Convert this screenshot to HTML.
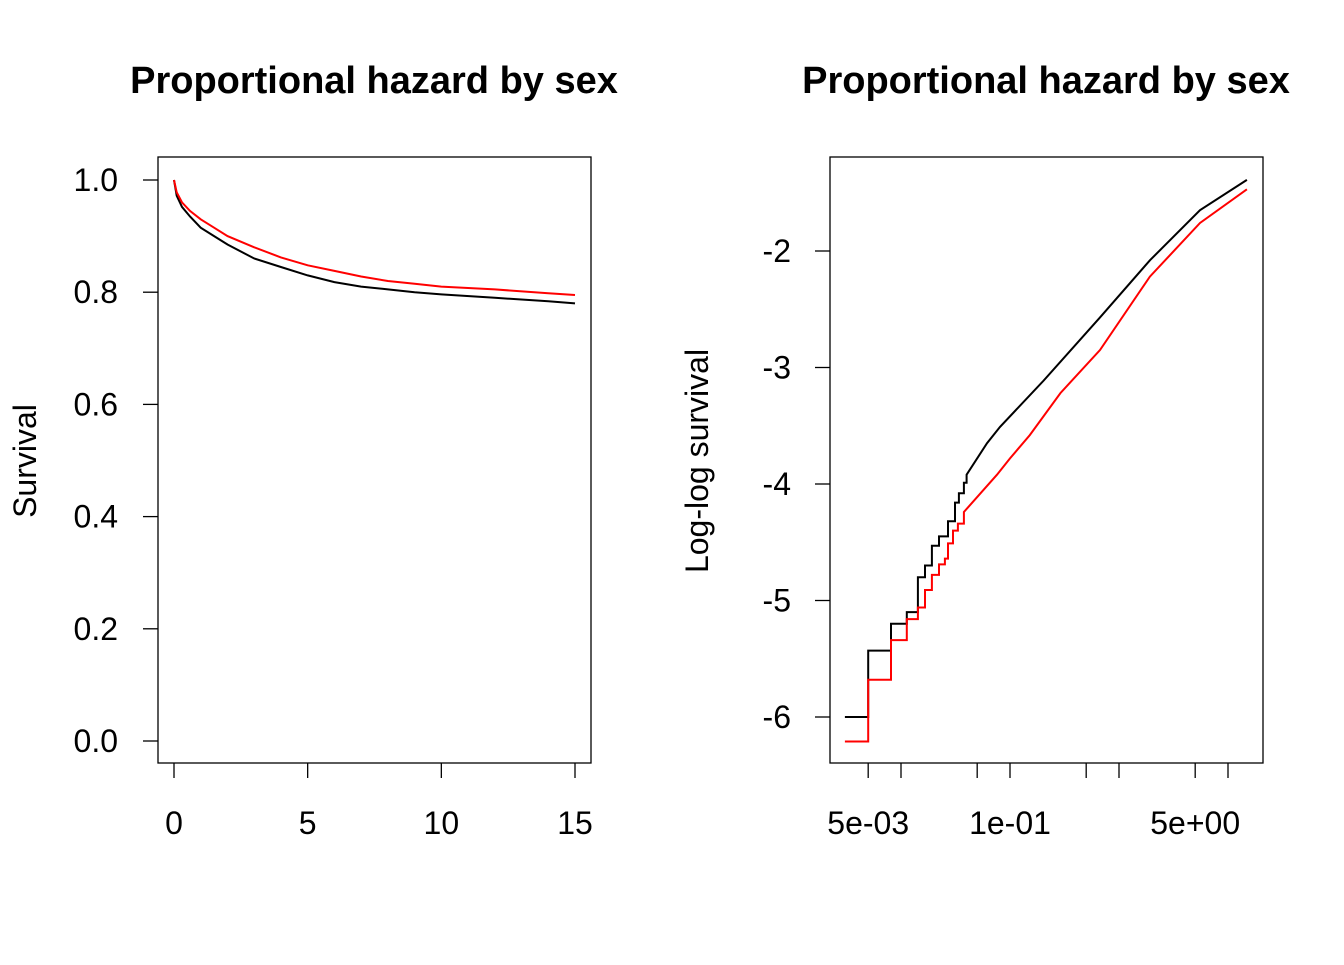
<!DOCTYPE html>
<html><head><meta charset="utf-8"><style>
body{margin:0;background:#fff}
svg text{font-family:"Liberation Sans",Arial,sans-serif}
</style></head><body>
<svg id="c" width="1344" height="960" xmlns="http://www.w3.org/2000/svg">
<rect width="1344" height="960" fill="#fff"/>
</svg>
<script>
// Left panel data
const survTimes=[0,0.1,0.3,0.6,1,1.5,2,3,4,5,6,7,8,9,10,12,14,15];
const survBlack=[1.0,0.972,0.952,0.935,0.915,0.9,0.885,0.86,0.845,0.83,0.818,0.81,0.805,0.8,0.796,0.79,0.784,0.78];
const survRed=[1.0,0.978,0.96,0.945,0.93,0.915,0.9,0.88,0.862,0.848,0.838,0.828,0.82,0.815,0.81,0.805,0.798,0.795];
const leftXTicks=[0,5,10,15];
const leftYTicks=[0.0,0.2,0.4,0.6,0.8,1.0];
// Right panel data
const llTimesBlack=[0.00306,0.005,0.0081,0.0113,0.0143,0.0166,0.0192,0.0223,0.027,0.0313,0.034,0.0378,0.040,0.0615,0.081,0.20,0.67,1.92,5.53,14.9];
const llBlack=[-6.0,-5.43,-5.20,-5.10,-4.80,-4.70,-4.53,-4.45,-4.32,-4.16,-4.08,-3.99,-3.92,-3.65,-3.51,-3.12,-2.57,-2.08,-1.65,-1.39];
const llTimesRed=[0.00306,0.005,0.0081,0.0113,0.0143,0.0166,0.0192,0.0223,0.0253,0.027,0.030,0.0333,0.0378,0.076,0.1,0.152,0.29,0.67,1.92,5.53,14.9];
const llRed=[-6.21,-5.68,-5.34,-5.16,-5.06,-4.91,-4.78,-4.69,-4.64,-4.51,-4.40,-4.34,-4.24,-3.92,-3.78,-3.58,-3.22,-2.85,-2.22,-1.76,-1.47];
const stepLimit=0.045;
const rightXTicks=[0.005,0.01,0.05,0.1,0.5,1,5,10];
const rightXLabels={"0.005":"5e-03","0.1":"1e-01","5":"5e+00"};
const rightYTicks=[-6,-5,-4,-3,-2];

const svg=document.getElementById('c');const NS='http://www.w3.org/2000/svg';
function mk(tag,attrs,parent,name){const e=document.createElementNS(NS,tag);for(const k in attrs)e.setAttribute(k,attrs[k]);


(parent||svg).appendChild(e);return e;}
function txt(x,y,s,attrs,name){const t=mk('text',Object.assign({x:x,y:y},attrs),svg,name);t.textContent=s;return t;}

const FS='32';
// left scales
const lx=v=>174+(575-174)*v/15;
const ly=v=>741-(741-180)*v;
mk('rect',{x:158,y:157,width:433,height:606,fill:'none',stroke:'#000','stroke-width':1.3},svg,'left-plot-box');
txt(374,93,'Proportional hazard by sex',{'text-anchor':'middle','font-size':'38','font-weight':'bold'},'left-title');
leftXTicks.forEach(v=>{mk('line',{x1:lx(v),x2:lx(v),y1:763,y2:778,stroke:'#000','stroke-width':1.3},svg,'left-x-tick');
txt(lx(v),834,String(v),{'text-anchor':'middle','font-size':FS},'left-x-tick-label');});
leftYTicks.forEach(v=>{mk('line',{x1:143,x2:158,y1:ly(v),y2:ly(v),stroke:'#000','stroke-width':1.3},svg,'left-y-tick');
txt(118,ly(v)+11,v.toFixed(1),{'text-anchor':'end','font-size':FS},'left-y-tick-label');});
txt(0,0,'Survival',{'font-size':FS,'text-anchor':'middle',transform:'translate(36,461) rotate(-90)'},'left-y-axis-title');
function poly(ts,vs,fx,fy){return ts.map((t,i)=>fx(t).toFixed(1)+','+fy(vs[i]).toFixed(1)).join(' ');}
mk('polyline',{points:poly(survTimes,survBlack,lx,ly),fill:'none',stroke:'#000','stroke-width':2},svg,'survival-line-black');
mk('polyline',{points:poly(survTimes,survRed,lx,ly),fill:'none',stroke:'#f00','stroke-width':2},svg,'survival-line-red');

// right scales
const rx=t=>1010+109*(Math.log10(t)+1);
const ry=v=>251-116.5*(v+2);
mk('rect',{x:830,y:157,width:433,height:606,fill:'none',stroke:'#000','stroke-width':1.3},svg,'right-plot-box');
txt(1046,93,'Proportional hazard by sex',{'text-anchor':'middle','font-size':'38','font-weight':'bold'},'right-title');
rightXTicks.forEach(v=>{mk('line',{x1:rx(v),x2:rx(v),y1:763,y2:778,stroke:'#000','stroke-width':1.3},svg,'right-x-tick');
const lab=rightXLabels[String(v)];if(lab)txt(rx(v),834,lab,{'text-anchor':'middle','font-size':FS},'right-x-tick-label');});
rightYTicks.forEach(v=>{mk('line',{x1:815,x2:830,y1:ry(v),y2:ry(v),stroke:'#000','stroke-width':1.3},svg,'right-y-tick');
txt(791,ry(v)+11,String(v),{'text-anchor':'end','font-size':FS},'right-y-tick-label');});
txt(0,0,'Log-log survival',{'font-size':FS,'text-anchor':'middle',transform:'translate(708,461) rotate(-90)'},'right-y-axis-title');
function stepPts(ts,vs){let p=[];for(let i=0;i<ts.length;i++){const x=rx(ts[i]),y=ry(vs[i]);
if(i>0&&ts[i]<=stepLimit){p.push(x.toFixed(1)+','+ry(vs[i-1]).toFixed(1));}p.push(x.toFixed(1)+','+y.toFixed(1));}
return p.join(' ');}
mk('polyline',{points:stepPts(llTimesBlack,llBlack),fill:'none',stroke:'#000','stroke-width':2},svg,'loglog-line-black');
mk('polyline',{points:stepPts(llTimesRed,llRed),fill:'none',stroke:'#f00','stroke-width':2},svg,'loglog-line-red');
</script>
</body></html>
